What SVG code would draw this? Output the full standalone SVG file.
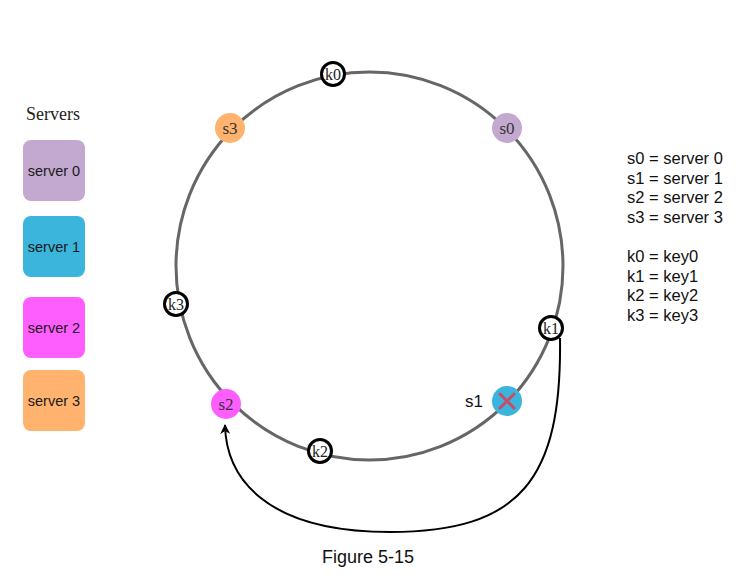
<svg xmlns="http://www.w3.org/2000/svg" width="751" height="585" viewBox="0 0 751 585">
<style>
.srv{stroke:none}
.bt{font-family:"Liberation Sans",Arial,sans-serif;font-size:14.5px;fill:#1a1a1a;text-anchor:middle}
.lg{font-family:"Liberation Sans",Arial,sans-serif;font-size:16.5px;fill:#111}
.nt{font-family:"Liberation Serif","DejaVu Serif",serif;font-size:17px;fill:#333;text-anchor:middle}
.key{fill:#fff;stroke:#000;stroke-width:3}
.kt{font-family:"Liberation Serif","DejaVu Serif",serif;font-size:16px;fill:#222;text-anchor:middle}
</style>
<defs>
<marker id="ah" viewBox="0 0 10 10" refX="9" refY="5" markerWidth="10" markerHeight="10" markerUnits="userSpaceOnUse" orient="auto">
<path d="M0,0 L10,5 L0,10 L3,5 Z" fill="#000"/>
</marker>
</defs>
<rect width="751" height="585" fill="#fff"/>
<g id="legend-servers">
<text x="53" y="120" font-family="Liberation Serif,serif" font-size="18" fill="#222" text-anchor="middle">Servers</text>
</g>
<g id="server0"><rect class="srv" x="23" y="140" width="62" height="61" rx="8" fill="#C3A9CF"/><text class="bt" x="54" y="176">server 0</text></g>
<g id="server1"><rect class="srv" x="23" y="216" width="62" height="61" rx="8" fill="#3BB5DB"/><text class="bt" x="54" y="252">server 1</text></g>
<g id="server2"><rect class="srv" x="23" y="297" width="62" height="61" rx="8" fill="#FF5EFF"/><text class="bt" x="54" y="333">server 2</text></g>
<g id="server3"><rect class="srv" x="23" y="370" width="62" height="61" rx="8" fill="#FFB36E"/><text class="bt" x="54" y="406">server 3</text></g>
<g id="ring"><ellipse cx="369.5" cy="266" rx="193.5" ry="194" fill="none" stroke="#666" stroke-width="3"/></g>
<g id="connectors">
<path d="M 560 338 C 562 480, 520 532, 390 532 C 262 532, 226 475, 225 425" fill="none" stroke="#000" stroke-width="2" marker-end="url(#ah)"/>
</g>
<g id="s0"><circle cx="507" cy="128" r="15" fill="#C3A9CF"/><text class="nt" x="507" y="134">s0</text></g>
<g id="s3"><circle cx="230" cy="128" r="15" fill="#FFB36E"/><text class="nt" x="230" y="134">s3</text></g>
<g id="s2"><circle cx="226" cy="404" r="15" fill="#FF5EFF"/><text class="nt" x="226" y="410">s2</text></g>
<g id="s1"><circle cx="507" cy="401" r="15" fill="#3BB5DB"/>
<path d="M500,394 L514,408 M514,394 L500,408" stroke="#CC4A66" stroke-width="3" stroke-linecap="round"/>
<text x="483" y="407" font-family="Liberation Sans,Arial,sans-serif" font-size="17" fill="#111" text-anchor="end">s1</text></g>
<g id="k0"><circle class="key" cx="333" cy="74" r="11.5"/><text class="kt" x="333" y="80">k0</text></g>
<g id="k3"><circle class="key" cx="176" cy="304" r="11.5"/><text class="kt" x="176" y="310">k3</text></g>
<g id="k1"><circle class="key" cx="551" cy="328" r="11.5"/><text class="kt" x="551" y="334">k1</text></g>
<g id="k2"><circle class="key" cx="320" cy="451" r="11.5"/><text class="kt" x="320" y="457">k2</text></g>
<g id="legend">
<text class="lg" x="627" y="164">s0 = server 0</text>
<text class="lg" x="627" y="183.5">s1 = server 1</text>
<text class="lg" x="627" y="203">s2 = server 2</text>
<text class="lg" x="627" y="222.5">s3 = server 3</text>
<text class="lg" x="627" y="262">k0 = key0</text>
<text class="lg" x="627" y="281.5">k1 = key1</text>
<text class="lg" x="627" y="301">k2 = key2</text>
<text class="lg" x="627" y="320.5">k3 = key3</text>
</g>
<g id="caption"><text x="368" y="563" font-family="Liberation Sans,Arial,sans-serif" font-size="18" fill="#111" text-anchor="middle">Figure 5-15</text></g>
</svg>
